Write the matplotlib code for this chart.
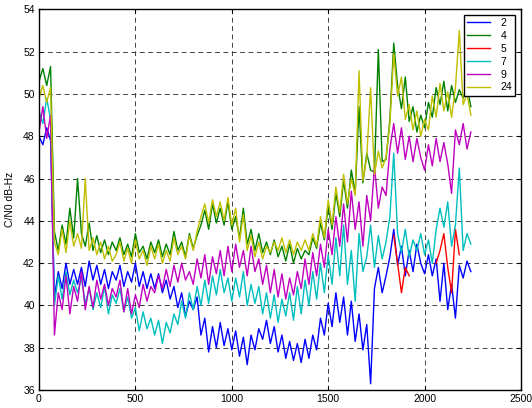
import numpy as np
import matplotlib
matplotlib.use('Agg')
import matplotlib.pyplot as plt

plt.rcParams['font.family'] = ['Liberation Sans', 'DejaVu Sans']

# samples every 20 units, 0..2240
x = np.arange(0, 2241, 20)

sv2 = [48.0, 47.6, 48.4, 47.8, 40.4, 41.6, 40.8, 42.0, 41.0, 41.7,
       41.0, 41.8, 40.9, 42.1, 41.2, 41.9, 41.0, 41.7, 40.8, 41.6,
       41.2, 41.9, 40.9, 41.6, 41.1, 42.0, 40.9, 41.6, 40.8, 41.5,
       40.8, 41.5, 40.6, 41.2, 40.3, 40.9, 39.9, 40.6, 39.5, 40.2,
       39.8, 40.4, 38.6, 39.4, 37.8, 39.0, 38.0, 39.2, 38.1, 38.9,
       37.9, 38.8, 37.6, 38.5, 37.2, 38.6, 37.9, 38.9, 38.4, 39.3,
       38.2, 39.0, 37.8, 38.6, 37.5, 38.3, 37.4, 38.2, 37.3, 38.4,
       37.5, 38.6, 37.9, 39.4, 38.6, 40.1, 39.0, 40.6, 39.2, 40.4,
       38.6, 40.2, 38.3, 39.6, 37.9, 39.1, 36.3, 40.8, 41.8, 40.6,
       41.4, 42.3, 43.6, 41.9, 42.8, 41.4, 42.6, 41.6, 42.9, 42.0,
       41.5, 42.4, 41.4, 42.2, 40.2, 42.0, 39.8, 41.0, 39.4, 41.9,
       41.3, 42.1, 41.6]

sv4 = [50.6, 51.2, 50.4, 51.3, 43.5, 42.6, 43.8, 42.9, 44.6, 43.2,
       46.0, 43.4, 42.8, 43.9, 42.6, 43.3, 42.5, 43.1, 42.4, 43.0,
       42.6, 43.2, 42.4, 42.9, 42.3, 43.4, 42.5, 42.8, 42.2, 43.0,
       42.5, 43.1, 42.3, 42.9, 42.4, 43.5, 42.6, 43.0, 42.3, 43.4,
       42.7, 43.3, 43.8, 44.5, 43.6, 44.8, 43.9, 44.6, 43.8, 44.9,
       43.6, 44.2, 43.2, 44.6, 42.9, 43.6, 42.6, 43.4, 42.5, 43.0,
       42.4, 43.1, 42.3, 42.8, 42.1, 42.9, 42.0, 42.7, 42.2, 42.6,
       42.4, 43.2, 42.7, 43.9, 43.1, 44.7, 43.6, 45.3, 44.2, 45.9,
       44.6, 46.4, 45.3, 49.4, 45.8, 47.2, 46.4, 46.3, 52.1, 46.8,
       46.9, 48.8, 52.4, 50.4, 49.3, 50.8, 48.7, 49.4, 48.2, 49.0,
       48.4, 49.6, 48.9, 50.3, 49.5, 50.6, 49.2, 50.4, 49.6, 50.2,
       49.8, 50.3, 49.4]

x5 = [1840, 1860, 1880, 1900, 1920, np.nan, 2060, 2080, 2100, 2120, 2140, 2160, 2180]
sv5 = [43.3, 42.0, 40.6, 41.8, 41.4, np.nan, 42.0, 42.6, 43.4, 41.8, 40.6, 43.6, 42.4]

sv7 = [49.2, 48.6, 49.8, 48.8, 40.0, 41.4, 40.3, 41.6, 40.5, 41.2,
       40.6, 41.3, 40.1, 40.8, 39.8, 40.6, 39.9, 40.9, 39.6, 40.5,
       40.1, 40.8, 39.7, 40.4, 39.4, 39.9, 38.8, 39.7, 38.9, 39.4,
       38.6, 39.3, 38.2, 39.2, 38.7, 39.6, 39.1, 40.2, 39.4, 40.6,
       39.8, 40.9, 40.0, 41.2, 40.1, 41.4, 40.5, 41.7, 40.6, 41.3,
       40.2, 41.3, 40.4, 41.6, 40.0, 41.0, 40.1, 40.9, 39.6, 40.6,
       39.4, 40.5, 39.2, 40.3, 39.5, 40.6, 39.3, 40.9, 39.6, 41.2,
       40.0, 41.6, 40.3, 42.0, 40.6, 42.4, 41.0, 43.2, 41.4, 43.8,
       41.0, 42.6, 40.2, 43.4, 41.6, 42.3, 43.8, 41.8, 43.3, 42.2,
       43.0, 44.2, 47.2, 43.4, 42.5, 43.6, 42.3, 43.1, 42.6, 43.4,
       42.4, 43.1, 42.0, 43.6, 44.6, 43.7, 44.9, 42.8, 43.8, 46.5,
       42.6, 43.4, 42.9]

sv9 = [48.2, 49.4, 47.9, 49.0, 38.6, 40.6, 39.8, 41.4, 39.6, 40.9,
       40.2, 41.6, 39.8, 40.9, 39.9, 41.2, 40.3, 41.0, 40.0, 40.8,
       40.4, 41.2, 39.7, 40.8, 39.6, 40.5, 39.9, 41.0, 40.2, 40.9,
       40.6, 41.4, 40.8, 41.7, 40.9, 41.9, 41.1, 42.0, 41.2, 41.6,
       41.0, 42.2, 41.3, 42.4, 41.0, 42.3, 41.5, 42.6, 41.4, 42.8,
       41.6, 42.9, 41.8, 42.6, 41.4, 42.8, 41.6, 42.2, 41.0, 41.9,
       40.6, 41.7, 40.4, 41.5, 40.3, 41.3, 40.5, 41.6, 40.8, 42.2,
       41.0, 42.5, 41.4, 42.9, 41.8, 43.6, 42.4, 44.2, 42.8, 44.8,
       43.0, 45.4, 43.6, 44.9, 42.8, 45.2, 44.0, 46.6, 44.6, 45.6,
       45.2, 47.4, 48.6, 47.2, 48.4, 46.9, 48.0, 46.8, 47.9, 47.0,
       46.4, 47.6, 46.6, 47.9, 46.8, 47.7, 46.7, 45.3, 48.3, 47.6,
       48.6, 47.4, 48.2]

sv24 = [49.8, 50.4, 49.6, 50.3, 43.0, 42.4, 43.6, 42.5, 44.0, 42.8,
        43.4, 42.7, 46.0, 42.6, 43.2, 42.4, 43.0, 42.2, 42.8, 42.1,
        42.4, 43.0, 42.1, 42.7, 42.0, 43.1, 42.2, 42.6, 41.9, 42.8,
        42.2, 42.9, 42.0, 42.6, 42.1, 43.2, 42.4, 42.8, 42.2, 43.3,
        42.6, 43.5, 44.2, 44.8, 43.9, 45.0, 44.2, 44.9, 44.0, 45.1,
        43.8, 44.6, 43.0, 44.3, 42.6, 43.3, 42.3, 43.0, 42.2, 42.8,
        42.5, 43.0, 42.6, 43.2, 42.5, 43.1, 42.4, 43.0, 42.6, 43.1,
        42.6, 43.4, 42.8, 44.2, 43.2, 45.0, 43.8, 45.6, 44.4, 46.2,
        44.8, 46.0, 45.2, 51.1, 45.9, 47.0, 50.3, 46.2, 47.3, 46.5,
        47.0, 48.6, 51.9, 49.9, 50.8, 48.8, 49.5, 48.3, 49.2, 48.0,
        48.8, 48.3, 49.9, 48.9, 50.5, 49.2, 50.1, 48.9, 50.3, 53.0,
        49.5, 50.0, 49.0]

fig = plt.figure(figsize=(5.32, 4.08), dpi=100)
ax = fig.add_axes([0.0733, 0.044, 0.906, 0.933])

lw = 1.0
ax.plot(x, sv2, color='#0000ff', lw=lw, label='2')
ax.plot(x, sv4, color='#008000', lw=lw, label='4')
ax.plot(x5, sv5, color='#ff0000', lw=lw, label='5')
ax.plot(x, sv7, color='#00bfbf', lw=lw, label='7')
ax.plot(x, sv9, color='#bf00bf', lw=lw, label='9')
ax.plot(x, sv24, color='#bfbf00', lw=lw, label='24')

ax.set_xlim(0, 2500)
ax.set_ylim(36, 54)
ax.set_xticks(np.arange(0, 2501, 500))
ax.set_yticks(np.arange(36, 55, 2))
ax.tick_params(direction='in', length=3, labelsize=7.5, width=0.8, pad=3,
               top=True, right=True)
ax.grid(True, color='0.25', linestyle=(0, (5, 3.6)), linewidth=0.7)
for s in ax.spines.values():
    s.set_linewidth(1.0)
ax.set_ylabel('C/N0 dB-Hz', fontsize=7.5, labelpad=6)

leg = ax.legend(loc='upper right', bbox_to_anchor=(0.9876, 0.9858),
                borderaxespad=0, fontsize=7.5, fancybox=False,
                edgecolor='black', framealpha=1, handlelength=2.2,
                labelspacing=0.28, borderpad=0.3, handletextpad=1.0)
leg.get_frame().set_linewidth(1.0)

fig.savefig('out.png', dpi=100)
